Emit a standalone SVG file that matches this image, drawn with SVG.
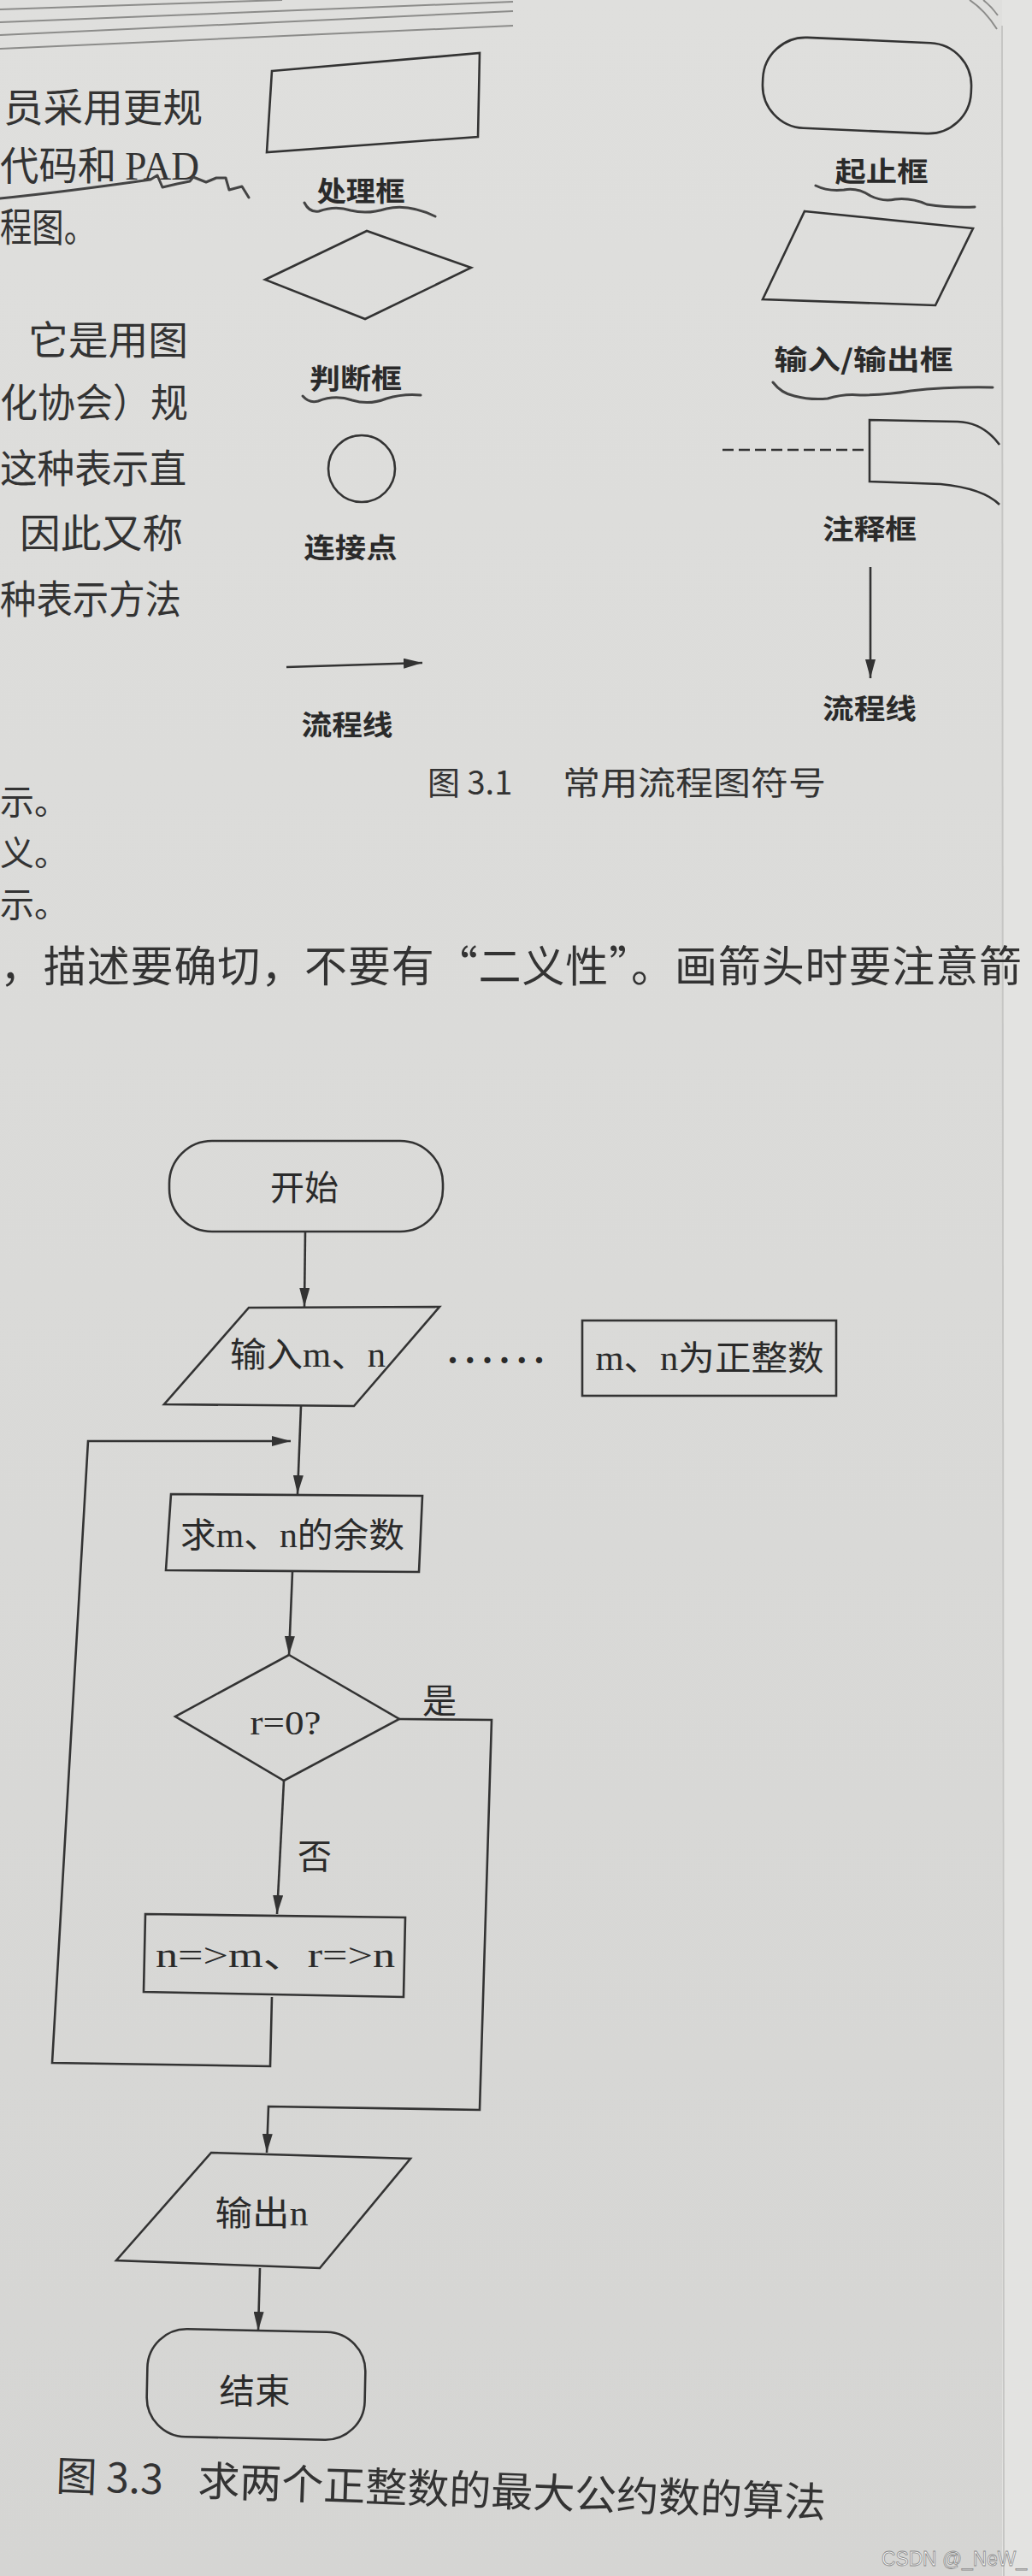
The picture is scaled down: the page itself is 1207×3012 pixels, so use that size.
<svg xmlns="http://www.w3.org/2000/svg" width="1207" height="3012" viewBox="0 0 1207 3012">
<defs>
<linearGradient id="paper" x1="0" y1="0" x2="0" y2="1">
<stop offset="0" stop-color="#dfdfdd"/>
<stop offset="0.5" stop-color="#dadad8"/>
<stop offset="1" stop-color="#d5d5d3"/>
</linearGradient>
<marker id="arr" markerUnits="userSpaceOnUse" markerWidth="22" markerHeight="12" refX="22" refY="6" orient="auto">
<path d="M0,0 L22,6 L0,12 z" fill="#333"/>
</marker>
<style>
.body{font-family:"Noto Sans CJK SC",sans-serif;font-size:46px;fill:#333}
.lbl{font-family:"Noto Sans CJK SC",sans-serif;font-weight:700;font-size:32px;fill:#2a2a2a;text-anchor:middle}
.fc{font-family:"Liberation Serif","Noto Sans CJK SC",serif;font-size:40px;fill:#2a2a2a;text-anchor:middle}
.cap{font-family:"Noto Sans CJK SC",sans-serif;fill:#333}
.shape{fill:none;stroke:#333;stroke-width:2.6;stroke-linejoin:miter}
.line{fill:none;stroke:#333;stroke-width:2.6}
.pen{fill:none;stroke:#444;stroke-width:3;stroke-linecap:round;stroke-linejoin:round}
.edge{fill:none;stroke:#8c8c8a;stroke-width:2}
</style>
</defs>
<rect x="0" y="0" width="1207" height="3012" fill="url(#paper)"/>
<rect x="1172" y="0" width="35" height="3012" fill="#e3e3e1"/>
<line x1="1172" y1="30" x2="1174" y2="3012" stroke="#c6c6c4" stroke-width="2"/>

<g id="page-edges">
<path class="edge" d="M0,11 Q160,5 330,0"/>
<path class="edge" d="M0,26 Q300,14 600,2"/>
<path class="edge" d="M0,41 Q300,28 600,13"/>
<path class="edge" d="M0,57 Q300,44 600,30"/>
<path class="edge" d="M1134,0 Q1152,12 1166,34"/>
<path class="edge" d="M1150,0 Q1160,8 1167,18"/>
</g>

<g id="body-text" class="body">
<text x="4" y="142" textLength="233" lengthAdjust="spacingAndGlyphs">员采用更规</text>
<text x="0" y="210" textLength="233" lengthAdjust="spacingAndGlyphs">代码和 <tspan font-family="Liberation Serif">PAD</tspan></text>
<text x="0" y="282" textLength="112" lengthAdjust="spacingAndGlyphs">程图。</text>
<text x="33" y="414" textLength="187" lengthAdjust="spacingAndGlyphs">它是用图</text>
<text x="0" y="487" textLength="220" lengthAdjust="spacingAndGlyphs">化协会）规</text>
<text x="0" y="564" textLength="218" lengthAdjust="spacingAndGlyphs">这种表示直</text>
<text x="23" y="640" textLength="191" lengthAdjust="spacingAndGlyphs">因此又称</text>
<text x="0" y="717" textLength="212" lengthAdjust="spacingAndGlyphs">种表示方法</text>
<text x="0" y="952" font-size="40">示。</text>
<text x="0" y="1012" font-size="40">义。</text>
<text x="0" y="1072" font-size="40">示。</text>
<text x="0" y="1148" font-size="50" textLength="1195" lengthAdjust="spacing">，描述要确切，不要有“二义性”。画箭头时要注意箭</text>
</g>

<g id="pen-marks">
<path class="pen" d="M0,232 C60,226 120,218 176,210 L184,205 L190,219 L207,215 L222,212 L226,207 L241,213 L253,208 L264,208 L268,222 L283,218 L291,231"/>
<path class="pen" d="M356,237 Q362,249 373,247 Q392,240 410,246 Q430,251 452,244 Q478,238 509,253"/>
<path class="pen" d="M354,463 Q362,472 372,469 Q392,461 412,468 Q432,474 452,466 Q472,460 492,462"/>
<path class="pen" d="M954,217 Q968,224 987,222 Q1003,219 1018,229 Q1032,236 1047,233 Q1066,231 1084,239 Q1110,243 1140,242"/>
<path class="pen" d="M904,447 Q914,460 929,463 Q948,468 968,466 Q988,460 1006,462 Q1036,462 1065,457 Q1110,452 1161,453"/>
</g>

<g id="legend-process">
<polygon class="shape" points="318,83 561,62 559,160 312,178"/>
<text class="lbl" x="422" y="235" textLength="103" lengthAdjust="spacingAndGlyphs">处理框</text>
</g>
<g id="legend-decision">
<polygon class="shape" points="310,327 429,270 551,313 427,373"/>
<text class="lbl" x="416" y="454" textLength="108" lengthAdjust="spacingAndGlyphs">判断框</text>
</g>
<g id="legend-connector">
<circle class="shape" cx="423" cy="548" r="39"/>
<text class="lbl" x="410" y="652" textLength="109" lengthAdjust="spacingAndGlyphs">连接点</text>
</g>
<g id="legend-flowline-h">
<text class="lbl" x="406" y="859" textLength="107" lengthAdjust="spacingAndGlyphs">流程线</text>
</g>
<g id="legend-terminator">
<rect class="shape" x="892" y="47" width="244" height="106" rx="50" ry="50" transform="rotate(2.5 1014 100)"/>
<text class="lbl" x="1031" y="212" textLength="109" lengthAdjust="spacingAndGlyphs">起止框</text>
</g>
<g id="legend-io">
<polygon class="shape" points="941,247 1138,267 1094,357 892,350"/>
<text class="lbl" x="1010" y="432" textLength="209" lengthAdjust="spacingAndGlyphs">输入/输出框</text>
</g>
<g id="legend-annotation">
<path class="shape" d="M1169,520 Q1150,494 1120,493 L1017,491 L1017,563 L1100,566 Q1150,571 1169,590"/>
<line class="line" x1="845" y1="526" x2="1010" y2="526" stroke-dasharray="13 6"/>
<text class="lbl" x="1017" y="630" textLength="110" lengthAdjust="spacingAndGlyphs">注释框</text>
</g>
<g id="legend-flowline-v">
<text class="lbl" x="1017" y="840" textLength="110" lengthAdjust="spacingAndGlyphs">流程线</text>
</g>

<g id="caption-3-1" class="cap" font-size="38">
<text y="929"><tspan x="500">图 3.1</tspan><tspan x="658" textLength="308" lengthAdjust="spacingAndGlyphs">常用流程图符号</tspan></text>
</g>

<g id="start">
<rect class="shape" x="198" y="1334" width="320" height="106" rx="50" ry="50"/>
<text class="fc" x="356" y="1403" font-size="38">开始</text>
</g>
<g id="input">
<polygon class="shape" points="291,1529 514,1528 414,1644 192,1642"/>
<text class="fc" x="360" y="1598" textLength="182" lengthAdjust="spacingAndGlyphs">输入m、n</text>
</g>
<g id="dots">
<text x="524" y="1594" font-family="Liberation Serif, serif" font-weight="700" font-size="44" fill="#2a2a2a" textLength="112" lengthAdjust="spacing">......</text>
</g>
<g id="note">
<rect class="shape" x="681" y="1544" width="297" height="88"/>
<text class="fc" x="830" y="1602" textLength="267" lengthAdjust="spacingAndGlyphs">m、n为正整数</text>
</g>
<g id="remainder">
<polygon class="shape" points="200,1747 494,1749 490,1838 194,1836"/>
<text class="fc" x="342" y="1809" textLength="262" lengthAdjust="spacingAndGlyphs">求m、n的余数</text>
</g>
<g id="decision">
<polygon class="shape" points="338,1935 467,2010 332,2082 205,2007"/>
<text class="fc" x="334" y="2028" font-size="44" textLength="83" lengthAdjust="spacingAndGlyphs">r=0?</text>
</g>
<g id="swap">
<polygon class="shape" points="170,2238 474,2242 472,2335 168,2329"/>
<text class="fc" x="322" y="2300" font-size="44" textLength="280" lengthAdjust="spacingAndGlyphs">n=&gt;m、r=&gt;n</text>
</g>
<g id="output">
<polygon class="shape" points="247,2517 480,2524 374,2652 136,2643"/>
<text class="fc" x="306" y="2602" textLength="109" lengthAdjust="spacingAndGlyphs">输出n</text>
</g>
<g id="end">
<rect class="shape" x="172" y="2725" width="255" height="126" rx="46" ry="46" transform="rotate(1.2 300 2788)"/>
<text class="fc" x="298" y="2810" textLength="83" lengthAdjust="spacingAndGlyphs">结束</text>
</g>

<g id="connectors">
<path class="line" d="M335,780 L494,775" marker-end="url(#arr)"/>
<path class="line" d="M1018,663 L1018,793" marker-end="url(#arr)"/>
<path class="line" d="M357,1440 L356,1528" marker-end="url(#arr)"/>
<path class="line" d="M352,1644 L348,1747" marker-end="url(#arr)"/>
<path class="line" d="M318,2335 L316,2416 L61,2412 L103,1685 L340,1685" marker-end="url(#arr)"/>
<path class="line" d="M342,1838 L338,1935" marker-end="url(#arr)"/>
<path class="line" d="M332,2082 L324,2238" marker-end="url(#arr)"/>
<path class="line" d="M467,2010 L575,2011 L561,2467 L314,2463 L312,2517" marker-end="url(#arr)"/>
<path class="line" d="M304,2652 L302,2725" marker-end="url(#arr)"/>
</g>
<g id="edge-labels" class="fc" font-size="38">
<text x="514" y="2003">是</text>
<text x="368" y="2185">否</text>
</g>

<g id="caption-3-3" class="cap" font-size="48" transform="rotate(2 65 2912)">
<text y="2912"><tspan x="65">图 3.3</tspan><tspan x="231" textLength="735" lengthAdjust="spacingAndGlyphs">求两个正整数的最大公约数的算法</tspan></text>
</g>

<g id="watermark">
<text x="1031" y="3000" font-family="Liberation Sans, sans-serif" font-size="24" fill="#f4f4f4" stroke="#8a8a8a" stroke-width="0.8" textLength="170" lengthAdjust="spacingAndGlyphs">CSDN @_NeW_</text>
</g>
</svg>
